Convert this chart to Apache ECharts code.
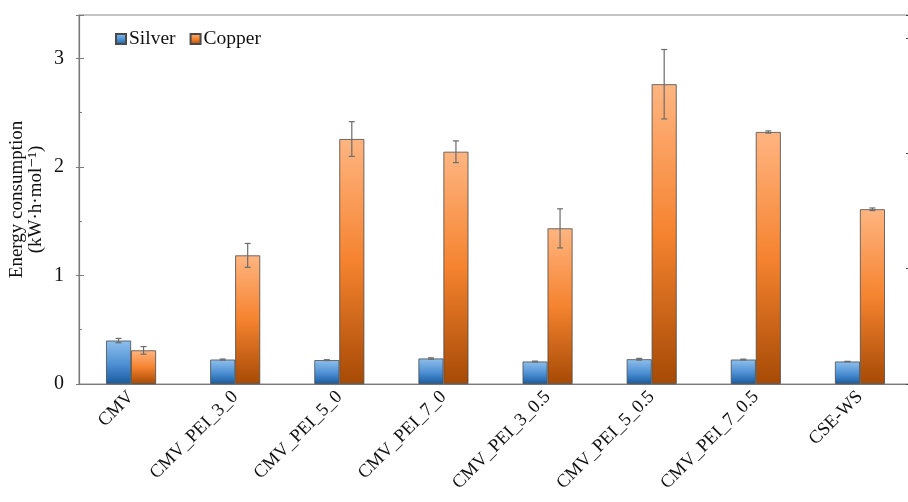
<!DOCTYPE html>
<html>
<head>
<meta charset="utf-8">
<script src="https://cdn.jsdelivr.net/npm/echarts@6/dist/echarts.min.js"></script>
<style>
  html, body { margin: 0; padding: 0; background: #fff; }
  #chart { width: 908px; height: 502px; }
</style>
</head>
<body>
<div id="chart"></div>
<script>
// Energy consumption per mole of recovered metal, by membrane / process
const categories = ['CMV', 'CMV_PEI_3_0', 'CMV_PEI_5_0', 'CMV_PEI_7_0',
  'CMV_PEI_3_0.5', 'CMV_PEI_5_0.5', 'CMV_PEI_7_0.5', 'CSE-WS'];
const silver    = [0.40, 0.225, 0.22, 0.235, 0.207, 0.228, 0.225, 0.207];
const silverErr = [0.02, 0.005, 0.004, 0.006, 0.004, 0.008, 0.004, 0.002];
const copper    = [0.31, 1.185, 2.257, 2.14, 1.434, 2.762, 2.322, 1.61];
const copperErr = [0.035, 0.11, 0.16, 0.10, 0.18, 0.32, 0.01, 0.012];
const yTicks = [0, 1, 2, 3];

const FONT = '"Liberation Serif", "DejaVu Serif", serif';
const AXIS_COLOR = '#7a7a7a';
const BAR_SHIFT = 0.12; // half of one bar's width, as a share of a category band

const silverFill = new echarts.graphic.LinearGradient(0, 0, 0, 1, [
  { offset: 0, color: '#8fc0ec' },
  { offset: 0.55, color: '#4d8fd2' },
  { offset: 1, color: '#175a9e' }
]);
const copperFill = new echarts.graphic.LinearGradient(0, 0, 0, 1, [
  { offset: 0, color: '#ffb581' },
  { offset: 0.5, color: '#f5832f' },
  { offset: 1, color: '#a64a05' }
]);

function errorBars(values, errs, side) {
  return values.map((v, i) => [i, v - errs[i], v + errs[i], side]);
}

function renderErr(params, api) {
  const idx = api.value(0);
  const side = api.value(3);
  const lo = api.coord([idx, api.value(1)]);
  const hi = api.coord([idx, api.value(2)]);
  const band = api.size([1, 0])[0];
  const x = lo[0] + side * band * BAR_SHIFT;
  const cap = 3;
  const style = { stroke: '#6b6b6b', lineWidth: 1.2 };
  return {
    type: 'group',
    children: [
      { type: 'line', shape: { x1: x, y1: hi[1], x2: x, y2: lo[1] }, style },
      { type: 'line', shape: { x1: x - cap, y1: hi[1], x2: x + cap, y2: hi[1] }, style },
      { type: 'line', shape: { x1: x - cap, y1: lo[1], x2: x + cap, y2: lo[1] }, style }
    ]
  };
}

const chart = echarts.init(document.getElementById('chart'), null, { renderer: 'canvas' });

chart.setOption({
  animation: false,
  textStyle: { fontFamily: FONT },
  grid: {
    left: 79, top: 15, right: -4, bottom: 118,
    outerBoundsMode: 'none', containLabel: false,
    show: true, borderColor: '#8a8a8a', borderWidth: 1, backgroundColor: 'transparent'
  },
  legend: {
    left: 110, top: 24, icon: 'rect',
    itemWidth: 10, itemHeight: 10, itemGap: 14,
    textStyle: { fontFamily: FONT, fontSize: 19.5, color: '#111', padding: [0, 0, 0, -2] },
    data: ['Silver', 'Copper']
  },
  xAxis: {
    type: 'category',
    data: categories,
    axisLine: { show: true, lineStyle: { color: AXIS_COLOR, width: 1.2 } },
    axisTick: { show: false },
    axisLabel: {
      rotate: 45, interval: 0, margin: 10,
      fontFamily: FONT, fontSize: 18.5, color: '#111'
    }
  },
  yAxis: [
    {
      type: 'value', min: 0, max: 3.4, interval: 1,
      name: 'Energy consumption\n(kW·h·mol⁻¹)',
      nameLocation: 'middle', nameGap: 33, nameRotate: 90, nameMoveOverlap: false,
      nameTextStyle: { fontFamily: FONT, fontSize: 19, color: '#111', lineHeight: 19 },
      axisLine: { show: true, lineStyle: { color: AXIS_COLOR, width: 1.2 } },
      axisTick: { show: true, inside: true, length: 5, lineStyle: { color: AXIS_COLOR } },
      minorTick: { show: true, splitNumber: 2, length: 3, lineStyle: { color: AXIS_COLOR } },
      splitLine: { show: false },
      axisLabel: {
        margin: 15, fontFamily: FONT, fontSize: 20, color: '#111',
        formatter: v => (yTicks.includes(v) ? String(v) : '')
      }
    },
    {
      // outer half of the major ticks on the left axis
      type: 'value', min: 0, max: 3.4, interval: 1, position: 'left', offset: 0,
      axisLine: { show: false },
      axisTick: { show: true, inside: false, length: 3, lineStyle: { color: AXIS_COLOR } },
      axisLabel: { show: false },
      splitLine: { show: false }
    },
    {
      // secondary scale on the right edge
      type: 'value', min: 0, max: 16, interval: 5, position: 'right',
      axisLine: { show: true, lineStyle: { color: AXIS_COLOR } },
      axisTick: { show: true, inside: true, length: 6, lineStyle: { color: '#444' } },
      minorTick: { show: true, splitNumber: 2, length: 3, lineStyle: { color: '#999' } },
      axisLabel: { show: false },
      splitLine: { show: false }
    }
  ],
  series: [
    {
      name: 'Silver', type: 'bar', data: silver,
      barWidth: '24%', barGap: '0%',
      itemStyle: { color: silverFill, borderColor: '#4a4a4a', borderWidth: 0.8 }
    },
    {
      name: 'Copper', type: 'bar', data: copper,
      barWidth: '24%', barGap: '0%',
      itemStyle: { color: copperFill, borderColor: '#4a4a4a', borderWidth: 0.8 }
    },
    {
      type: 'custom', name: 'Silver error', renderItem: renderErr,
      data: errorBars(silver, silverErr, -1), z: 5,
      encode: { x: 0, y: [1, 2] }, silent: true
    },
    {
      type: 'custom', name: 'Copper error', renderItem: renderErr,
      data: errorBars(copper, copperErr, 1), z: 5,
      encode: { x: 0, y: [1, 2] }, silent: true
    }
  ]
});
</script>
</body>
</html>
